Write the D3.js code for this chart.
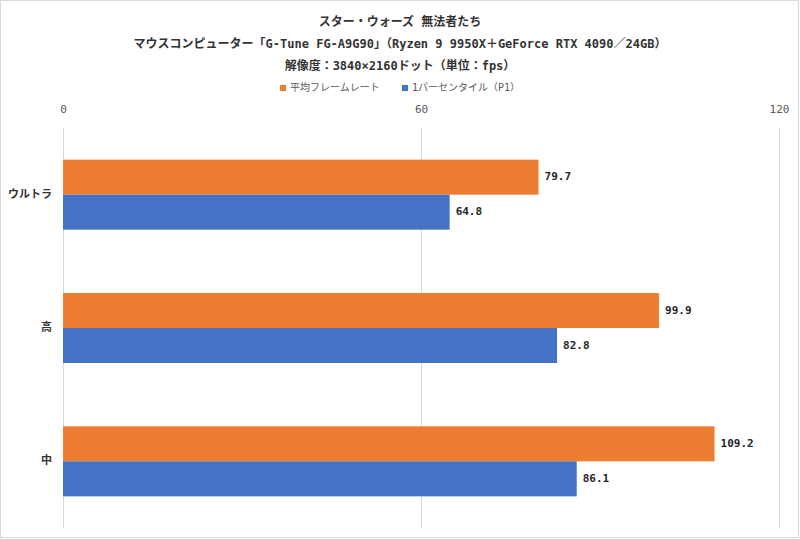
<!DOCTYPE html>
<html><head><meta charset="utf-8">
<script src="https://cdn.jsdelivr.net/npm/d3@7"></script>
<style>
body{margin:0;background:#fff;}
svg{display:block;}
</style></head>
<body>
<svg id="chart" width="800" height="539"></svg>
<script>
const titleLines = ["スター・ウォーズ 無法者たち","マウスコンピューター「G-Tune FG-A9G90」（Ryzen 9 9950X＋GeForce RTX 4090／24GB）","解像度：3840×2160ドット（単位：fps）"];
const categories = ["ウルトラ","高","中"];
const seriesNames = ["平均フレームレート","1パーセンタイル（P1）"];
const avgFps = [79.7, 99.9, 109.2];
const p1Fps = [64.8, 82.8, 86.1];
const tickValues = [0, 60, 120];
const colors = ["#ED7D31","#4472C4"];

const mono = "'DejaVu Sans Mono',monospace";
const cjk = "'Noto Sans CJK JP','Noto Sans',sans-serif";
const mixed = "'DejaVu Sans Mono','Noto Sans CJK JP',monospace";

const svg = d3.select("#chart");
svg.append("rect").attr("x",0.5).attr("y",0.5).attr("width",798).attr("height",537)
  .attr("fill","#fff").attr("stroke","#d9d9d9");

const titleY = [22,44,66];
svg.selectAll("text.title").data(titleLines).join("text")
  .attr("class","title").attr("x",400).attr("y",(d,i)=>titleY[i])
  .attr("text-anchor","middle").attr("dominant-baseline","middle")
  .style("font-family",mixed).style("font-weight","bold").style("font-size","12px")
  .attr("fill","#333").text(d=>d);

// legend
const legendX = [280, 402];
const lg = svg.selectAll("g.leg").data(seriesNames).join("g").attr("class","leg")
  .attr("transform",(d,i)=>`translate(${legendX[i]},88)`);
lg.append("rect").attr("x",0).attr("y",-3).attr("width",6).attr("height",6).attr("fill",(d,i)=>colors[i]);
lg.append("text").attr("x",10).attr("y",0).attr("dominant-baseline","middle")
  .style("font-family",mixed).style("font-size","10px").attr("fill","#595959").text(d=>d);

const x = d3.scaleLinear().domain([0,120]).range([63,779]);
const y = d3.scaleBand().domain(categories).range([128,528]).paddingInner(0.475).paddingOuter(0.2375);

// gridlines
svg.append("g").selectAll("line").data(tickValues).join("line")
  .attr("x1",d=>x(d)).attr("x2",d=>x(d)).attr("y1",128).attr("y2",528)
  .attr("stroke","#d9d9d9").attr("stroke-width",1).attr("shape-rendering","crispEdges");

const xAxis = svg.append("g").attr("transform","translate(0,110)")
  .call(d3.axisTop(x).tickValues(tickValues).tickSize(0).tickPadding(0));
xAxis.select(".domain").remove();
xAxis.selectAll("text").attr("dominant-baseline","middle").attr("dy",0)
  .style("font-family",mono).style("font-size","11px").attr("fill","#595959");

const yAxis = svg.append("g").attr("transform","translate(52,0)")
  .call(d3.axisLeft(y).tickSize(0).tickPadding(0));
yAxis.select(".domain").remove();
yAxis.selectAll("text").attr("dominant-baseline","middle").attr("dy",0)
  .style("font-family",cjk).style("font-weight","bold").style("font-size","11px").attr("fill","#333");

const sub = d3.scaleBand().domain([0,1]).range([0,y.bandwidth()]);
const series = [avgFps, p1Fps];
series.forEach((vals,si)=>{
  const g = svg.append("g");
  g.selectAll("rect").data(vals).join("rect")
    .attr("x",x(0)).attr("y",(d,i)=>y(categories[i])+sub(si))
    .attr("width",d=>x(d)-x(0)).attr("height",sub.bandwidth())
    .attr("fill",colors[si]);
  g.selectAll("text").data(vals).join("text")
    .attr("x",d=>x(d)+6).attr("y",(d,i)=>y(categories[i])+sub(si)+sub.bandwidth()/2)
    .attr("dominant-baseline","middle")
    .style("font-family",mono).style("font-weight","bold").style("font-size","11px")
    .attr("fill","#262626").text(d=>d.toFixed(1));
});
</script>
</body></html>
